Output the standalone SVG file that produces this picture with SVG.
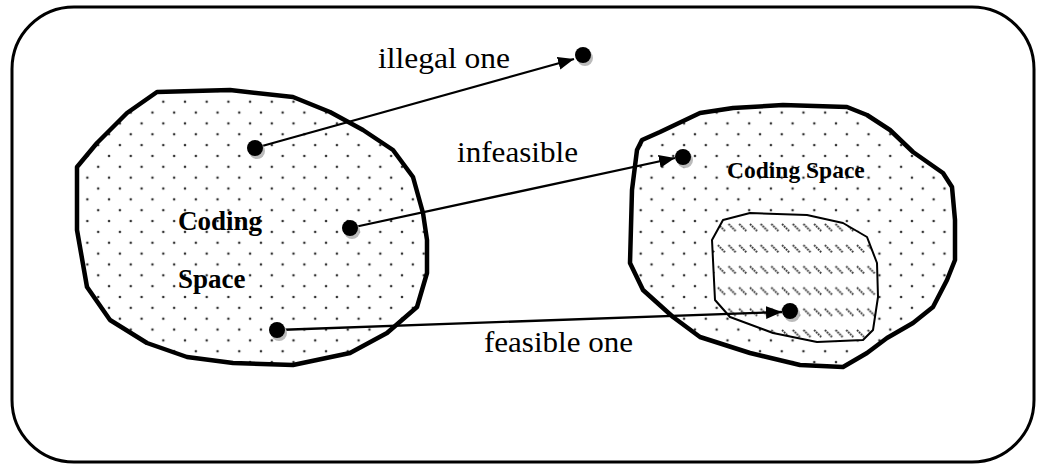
<svg xmlns="http://www.w3.org/2000/svg" width="1037" height="465" viewBox="0 0 1037 465">
<style>
.frame{fill:none;stroke:#000;stroke-width:3}
.blob{stroke:#000;stroke-width:4.5;stroke-linejoin:round;fill:url(#dots)}
.inner{stroke:#000;stroke-width:2;stroke-linejoin:round;fill:url(#hatch)}
.lbl{font-family:"Liberation Serif","Times New Roman",serif;font-size:30px;fill:#000}
.cs{font-family:"Liberation Serif","Times New Roman",serif;font-weight:bold;fill:#000}
.edge{stroke:#000;stroke-width:2.3;fill:none;marker-end:url(#arr)}
</style>
<defs>
<pattern id="dots" patternUnits="userSpaceOnUse" x="163.3" y="101.7" width="21.7" height="21.7">
<rect width="21.7" height="21.7" fill="#fff"/>
<circle cx="0" cy="0" r="1.3" fill="#333"/>
<circle cx="21.7" cy="0" r="1.3" fill="#333"/>
<circle cx="0" cy="21.7" r="1.3" fill="#333"/>
<circle cx="21.7" cy="21.7" r="1.3" fill="#333"/>
<circle cx="10.85" cy="10.85" r="1.3" fill="#333"/>
</pattern>
<pattern id="hatch" patternUnits="userSpaceOnUse" x="0" y="223" width="10.7" height="21.2">
<rect width="10.7" height="21.2" fill="#fff"/>
<line x1="1" y1="1" x2="8.5" y2="8.5" stroke="#333" stroke-width="1.9" stroke-dasharray="1.8 0.9"/>
</pattern>
<marker id="arr" markerUnits="userSpaceOnUse" markerWidth="17" markerHeight="14" refX="16" refY="6.5" orient="auto">
<path d="M0,0 L16,6.5 L0,13 z" fill="#000"/>
</marker>
<g id="pt">
<circle cx="2" cy="3" r="8" fill="#bbb"/>
<circle cx="0" cy="0" r="8" fill="#000"/>
</g>
</defs>
<rect class="frame" x="12" y="7" width="1022" height="455" rx="62" ry="62"/>
<g id="left-space">
<path class="blob" d="M157,92 L230,90 L293,97 L330,112 L363,130 L393,150 L413,177 L423,213 L427,240 L427,273 L417,307 L387,333 L350,353 L293,365 L233,363 L187,357 L147,343 L110,320 L87,287 L77,230 L77,167 L97,143 L127,113 Z"/>
<text class="cs" x="178" y="230" font-size="27">Coding</text>
<text class="cs" x="178" y="288" font-size="27">Space</text>
</g>
<g id="right-space">
<path class="blob" d="M642,140 L660,132 L700,113 L733,108 L783,105 L847,107 L867,115 L890,130 L913,152 L943,173 L952,187 L955,220 L955,260 L947,280 L933,307 L913,323 L887,338 L867,353 L843,367 L800,365 L750,353 L700,337 L673,317 L643,290 L630,263 L632,190 L637,150 Z"/>
<text class="cs" x="727" y="178" font-size="23.5">Coding Space</text>
</g>
<g id="feasible-region">
<path class="inner" d="M723,220 L750,213 L807,215 L843,223 L867,237 L877,263 L878,297 L873,330 L863,340 L817,342 L773,333 L730,317 L715,300 L712,240 Z"/>
</g>
<g id="connectors">
<line class="edge" x1="255" y1="148" x2="574" y2="59"/>
<line class="edge" x1="350" y1="228" x2="675" y2="158"/>
<line class="edge" x1="277" y1="330" x2="782" y2="312"/>
</g>
<g id="point-a"><use href="#pt" x="255" y="148"/></g>
<g id="point-b"><use href="#pt" x="350" y="228"/></g>
<g id="point-c"><use href="#pt" x="277" y="330"/></g>
<g id="point-illegal"><use href="#pt" x="583" y="55"/></g>
<g id="point-infeasible"><use href="#pt" x="683" y="157"/></g>
<g id="point-feasible"><use href="#pt" x="790" y="311"/></g>
<g id="labels">
<text class="lbl" x="378" y="68" textLength="132" lengthAdjust="spacingAndGlyphs">illegal one</text>
<text class="lbl" x="457" y="162" textLength="121" lengthAdjust="spacingAndGlyphs">infeasible</text>
<text class="lbl" x="484" y="352" textLength="149" lengthAdjust="spacingAndGlyphs">feasible one</text>
</g>
</svg>
